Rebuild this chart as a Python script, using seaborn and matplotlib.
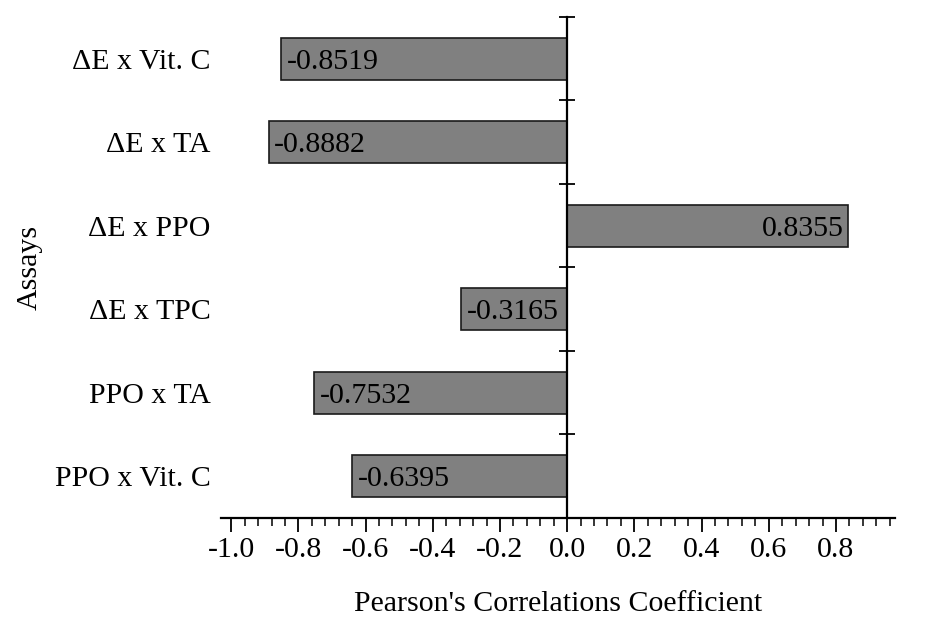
import matplotlib
matplotlib.use("Agg")
import matplotlib.pyplot as plt
import seaborn as sns
import pandas as pd
from matplotlib.ticker import MultipleLocator, FixedLocator, FormatStrFormatter

assays = ["\u0394E x Vit. C", "\u0394E x TA", "\u0394E x PPO", "\u0394E x TPC", "PPO x TA", "PPO x Vit. C"]
coefficients = [-0.8519, -0.8882, 0.8355, -0.3165, -0.7532, -0.6395]

sns.set_style("ticks")
plt.rcParams['font.family'] = ['Liberation Serif', 'DejaVu Serif']
plt.rcParams['font.size'] = 21.5
plt.rcParams['axes.unicode_minus'] = False
for key in ['text.color', 'axes.labelcolor', 'xtick.color', 'ytick.color', 'axes.edgecolor']:
    plt.rcParams[key] = 'black'

frame = pd.DataFrame({"Assays": assays, "Coefficient": coefficients})

fig = plt.figure(figsize=(9.33, 6.18), dpi=100)
ax = fig.add_axes([0.237, 0.162, 0.722, 0.8105])
sns.barplot(frame, x="Coefficient", y="Assays", color="#808080", saturation=1,
            width=0.5, edgecolor="#1a1a1a", linewidth=1.2, ax=ax)

ax.set_xlim(-1.03, 0.975)
ax.set_ylim(5.5, -0.5)

ax.spines['left'].set_visible(False)
ax.spines['top'].set_visible(False)
ax.spines['right'].set_position(('data', 0))
ax.spines['right'].set_linewidth(1.6)
ax.spines['bottom'].set_linewidth(1.6)

# ticks between categories on the centre spine
ax.yaxis.set_minor_locator(FixedLocator([i - 0.5 for i in range(len(assays) + 1)]))
ax.tick_params(axis='y', which='major', left=False, right=False, labelleft=True,
               labelright=False, pad=4, labelsize=21.5)
ax.tick_params(axis='y', which='minor', left=False, right=True, direction='inout',
               length=11, width=1.3)

ax.xaxis.set_major_locator(MultipleLocator(0.2))
ax.xaxis.set_minor_locator(MultipleLocator(0.04))
ax.xaxis.set_major_formatter(FormatStrFormatter('%.1f'))
ax.tick_params(axis='x', which='major', direction='out', length=10, width=1.3, labelsize=21.5, pad=4)
ax.tick_params(axis='x', which='minor', direction='out', length=6, width=1.1)

for patch, value in zip(ax.patches, coefficients):
    yc = patch.get_y() + patch.get_height() / 2
    if value < 0:
        ax.annotate(f"{value:.4f}", (value, yc), xytext=(4, 0), textcoords='offset points',
                    ha='left', va='center_baseline', fontsize=21.5)
    else:
        ax.annotate(f"{value:.4f}", (value, yc), xytext=(-3, 0), textcoords='offset points',
                    ha='right', va='center_baseline', fontsize=21.5)

ax.set_xlabel("Pearson's Correlations Coefficient", fontsize=21.5, labelpad=20)
ax.set_ylabel("Assays", fontsize=21.5, labelpad=9)

fig.savefig("out.png", dpi=100)
